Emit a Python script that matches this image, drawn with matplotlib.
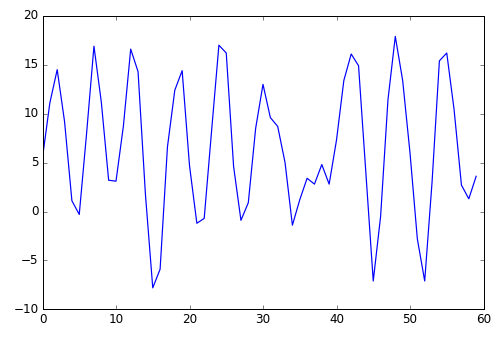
import numpy as np
import matplotlib
matplotlib.use("Agg")
import matplotlib.pyplot as plt

plt.style.use('classic')

# values, one per integer x
x = np.arange(60)
y = [5.5, 11.1, 14.5, 9.2, 1.1, -0.3, 8.0, 16.9, 11.2, 3.2,
     3.1, 8.7, 16.6, 14.3, 1.8, -7.8, -5.9, 6.6, 12.4, 14.4,
     4.7, -1.2, -0.7, 8.2, 17.0, 16.2, 4.6, -0.9, 0.9, 8.5,
     13.0, 9.6, 8.7, 5.0, -1.4, 1.2, 3.4, 2.8, 4.8, 2.8,
     7.3, 13.4, 16.1, 14.9, 3.9, -7.1, -0.5, 11.4, 17.9, 13.4,
     6.0, -2.8, -7.1, 3.0, 15.4, 16.2, 10.4, 2.7, 1.3, 3.6]

fig = plt.figure(figsize=(500 / 72, 337 / 72), dpi=72)
ax = fig.add_axes([0.085, 0.082, 0.882, 0.871])
ax.plot(x, y, 'b-', lw=1.2)
ax.set_xlim(0, 60)
ax.set_ylim(-10, 20)

fig.savefig("out.png", dpi=72)
